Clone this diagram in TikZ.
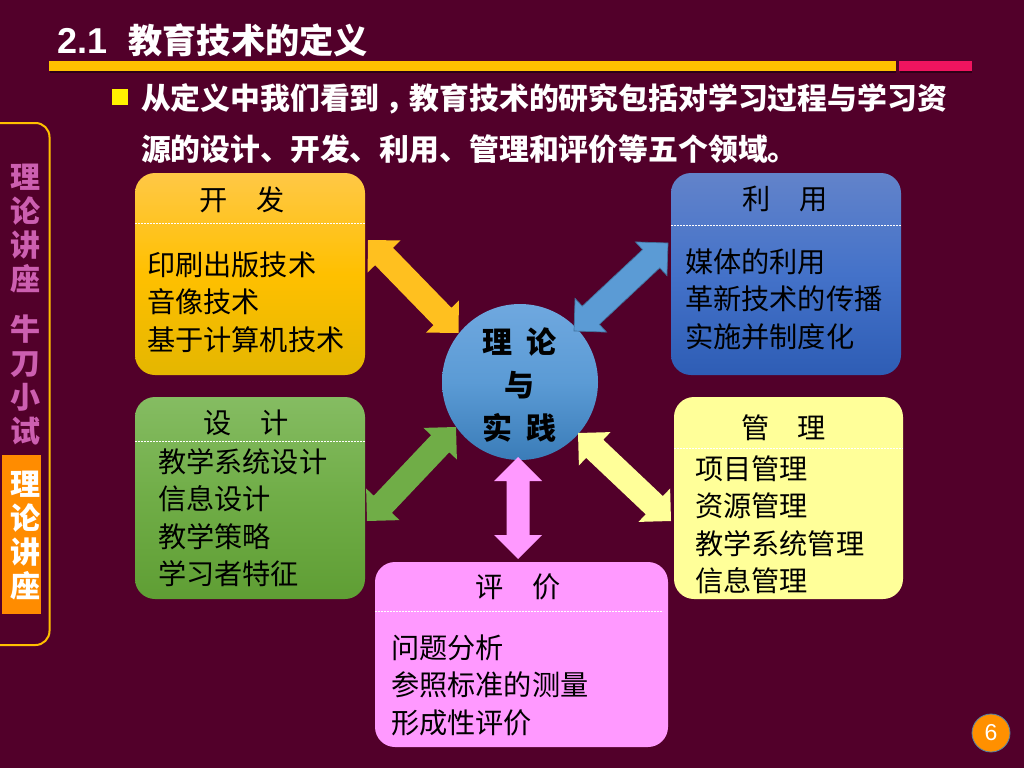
\documentclass[tikz,border=0pt]{standalone}
\usepackage{fontspec}
\setmainfont{Liberation Sans}
\newfontfamily\cjk{Noto Sans CJK SC}
\usetikzlibrary{calc}
\definecolor{bg}{HTML}{52002A}
\definecolor{sidetxt}{HTML}{CC5FB0}
\definecolor{goldtop}{HTML}{FFC846}\definecolor{goldbot}{HTML}{E4B600}\definecolor{goldmid}{HTML}{FFC000}
\definecolor{bluetop}{HTML}{6283CA}\definecolor{bluebot}{HTML}{2E5DB5}\definecolor{bluemid}{HTML}{4472C9}
\definecolor{greentop}{HTML}{85BC62}\definecolor{greenbot}{HTML}{5F9E34}\definecolor{greenmid}{HTML}{70AD47}
\definecolor{pinkfill}{HTML}{FF99FF}\definecolor{yellowfill}{HTML}{FFFF99}
\definecolor{hubtop}{HTML}{6FA8DF}\definecolor{hubmid}{HTML}{5B9BD5}\definecolor{hubbot}{HTML}{3A7CB8}
\definecolor{arrowedge}{HTML}{41719C}\definecolor{goldarrow}{HTML}{FFC01F}
\definecolor{barpink}{HTML}{F0145F}\definecolor{sideorange}{HTML}{FF8C00}
\definecolor{pagefill}{HTML}{FF9000}\definecolor{pageedge}{HTML}{4F81A8}
\newcommand{\px}[1]{\fontsize{#1}{#1}\selectfont}
\tikzset{
  x=1pt,y=-1pt,
  every node/.style={inner sep=0pt,outer sep=0pt},
  panel/.style={rectangle,rounded corners=20pt,anchor=north west},
  goldpanel/.style={panel,top color=goldtop,bottom color=goldbot,middle color=goldmid},
  bluepanel/.style={panel,top color=bluetop,bottom color=bluebot,middle color=bluemid},
  greenpanel/.style={panel,top color=greentop,bottom color=greenbot,middle color=greenmid},
  pinkpanel/.style={panel,fill=pinkfill},
  yellowpanel/.style={panel,fill=yellowfill},
  head/.style={font=\cjk\px{28.2},text=black},
  items/.style={font=\cjk\fontsize{28.2}{37.5}\selectfont,text=black,align=left,anchor=west},
  divider/.style={white,line width=.6pt,dash pattern=on 2pt off 1pt},
  sidetext/.style={font=\cjk\bfseries\fontsize{30}{34}\selectfont,align=center},
  hubtext/.style={font=\cjk\bfseries\px{30},text=black},
  heading/.style={font=\cjk\bfseries\px{29.85},text=white,anchor=west},
}
% block double arrow between two named coordinates: #1,#2 tips, #3 style, #4 head size, #5 half shaft
\newcommand{\blockarrow}[5]{%
  \path[#3] (#1)
   -- ($(#1)!#4pt!(#2)!#4pt!90:(#2)$)
   -- ($(#1)!#4pt!(#2)!#5pt!90:(#2)$)
   -- ($(#2)!#4pt!(#1)!#5pt!-90:(#1)$)
   -- ($(#2)!#4pt!(#1)!#4pt!-90:(#1)$)
   -- (#2)
   -- ($(#2)!#4pt!(#1)!#4pt!90:(#1)$)
   -- ($(#2)!#4pt!(#1)!#5pt!90:(#1)$)
   -- ($(#1)!#4pt!(#2)!#5pt!-90:(#2)$)
   -- ($(#1)!#4pt!(#2)!#4pt!-90:(#2)$)
   -- cycle;}
\begin{document}
\begin{tikzpicture}
\useasboundingbox (0,0) rectangle (1024,768);
\fill[bg] (0,0) rectangle (1024,768);
% title
\node[anchor=west,text=white,font=\bfseries\px{36}] (title) at (57,40) {2.1\hspace{21.5pt}{\cjk\px{34.2}教育技术的定义}};
\fill[black!45!bg] (50,71) rectangle (896,73);
\fill[black!45!bg] (900,71) rectangle (972,73);
\fill[goldmid] (49,61) rectangle (896,71);
\fill[barpink] (899,61) rectangle (972,71);
% bullet and heading
\fill[yellow] (112,89) rectangle (128,105);
\node[heading] (line1) at (141,98.5) {从定义中我们看到\hspace{6pt}，\hspace{-6pt}教育技术的研究包括对学习过程与学习资};
\node[heading] (line2) at (141,149) {源的设计、开发、利用、管理和评价等五个领域。};
% sidebar
\draw[goldmid,line width=2pt,rounded corners=14pt] (-5,123) -- (49.5,123) -- (49.5,645) -- (-5,645);
\fill[sideorange] (2,455) rectangle (41,614);
\node[sidetext,text=sidetxt] (side1) at (25,228.5) {理\\论\\讲\\座};
\node[sidetext,text=sidetxt] (side2) at (25,380) {牛\\刀\\小\\试};
\node[sidetext,text=white] (side3) at (25,536) {理\\论\\讲\\座};
% panels
\node[goldpanel,minimum width=230pt,minimum height=202pt] (kf) at (135,173) {};
\node[bluepanel,minimum width=230pt,minimum height=202pt] (ly) at (671,173) {};
\node[greenpanel,minimum width=230pt,minimum height=202pt] (sj) at (135,397) {};
\node[yellowpanel,minimum width=229pt,minimum height=202pt] (gl) at (674,397) {};
\node[pinkpanel,minimum width=293pt,minimum height=185pt] (pj) at (375,562) {};
\draw[divider] (135,223) -- (365,223);
\draw[divider] (671,225) -- (901,225);
\draw[divider] (135,441) -- (365,441);
\draw[divider] (674,448) -- (903,448);
\draw[divider] (375,611) -- (663,611);
\node[head] (kfh) at (242,200) {开　发};
\node[head] (lyh) at (785,199) {利　用};
\node[head] (sjh) at (246,423) {设　计};
\node[head] (glh) at (783.5,428) {管　理};
\node[head] (pjh) at (518,587) {评　价};
\node[items] (kfi) at (147,302) {印刷出版技术\\音像技术\\基于计算机技术};
\node[items] (lyi) at (685,299) {媒体的利用\\革新技术的传播\\实施并制度化};
\node[items] (sji) at (158,517.5) {教学系统设计\\信息设计\\教学策略\\学习者特征};
\node[items] (gli) at (695,525) {项目管理\\资源管理\\教学系统管理\\信息管理};
\node[items] (pji) at (391,685) {问题分析\\参照标准的测量\\形成性评价};
% hub
\node[circle,minimum size=156pt,top color=hubtop,bottom color=hubbot,middle color=hubmid] (hub) at (520,382) {};
\node[hubtext] (h1) at (519.5,342) {理\hspace{14pt}论};
\node[hubtext] (h2) at (519.5,385) {与};
\node[hubtext] (h3) at (519.5,428) {实\hspace{14pt}践};
% arrow ends
\coordinate (a1) at (368,240); \coordinate (a2) at (458.5,333);
\coordinate (b1) at (668,243); \coordinate (b2) at (574,331);
\coordinate (c1) at (456,427); \coordinate (c2) at (367,521);
\coordinate (d1) at (578,433); \coordinate (d2) at (671,521);
\coordinate (e1) at (518,457); \coordinate (e2) at (518,559);
\blockarrow{a1}{a2}{fill=goldarrow}{23}{12.5}
\blockarrow{b1}{b2}{fill=hubmid,draw=arrowedge,line width=.7pt}{23}{12.5}
\blockarrow{c1}{c2}{fill=greenmid}{23}{12.5}
\blockarrow{d1}{d2}{fill=yellowfill}{23}{12.5}
\blockarrow{e1}{e2}{fill=pinkfill}{24}{11.5}
% page number
\node[circle,minimum size=38pt,fill=pagefill,draw=pageedge,line width=.8pt,text=white,font=\px{23}] (pg) at (991,733) {6};
\end{tikzpicture}
\end{document}
